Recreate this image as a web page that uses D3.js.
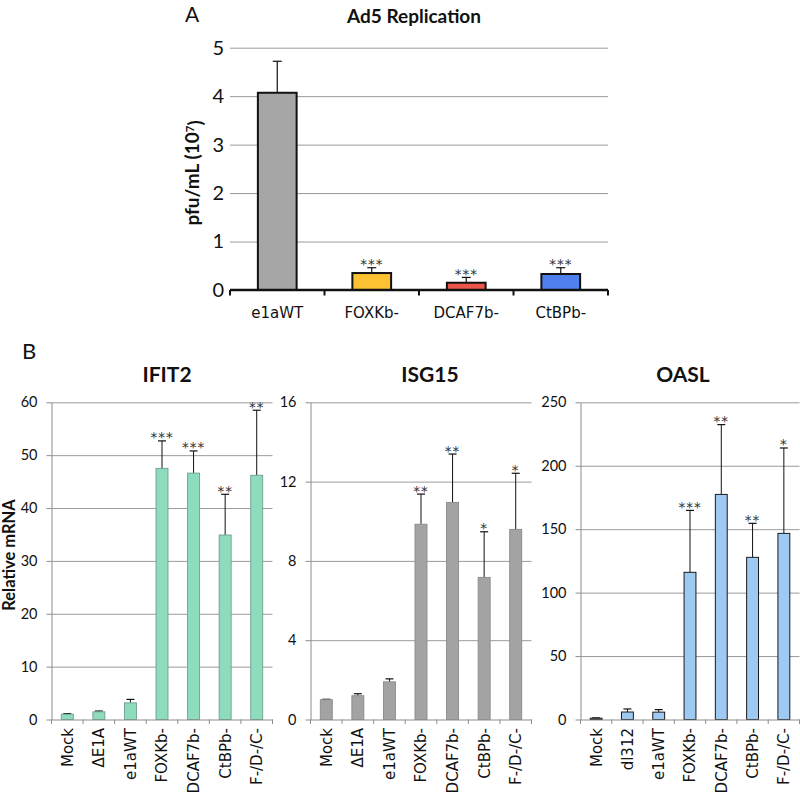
<!DOCTYPE html>
<html lang="en">
<head>
<meta charset="UTF-8" />
<script src="https://d3js.org/d3.v7.min.js"></script>
<style>
  body { margin: 0; background: #fff; }
  svg text { fill: #111; }
  .tick-label { font-family: Lato, sans-serif; }
  .cat-label { font-family: "DejaVu Sans", sans-serif; }
  .title { font-family: Lato, sans-serif; font-weight: bold; }
  .stars { font-family: "DejaVu Sans", sans-serif; fill: #333; }
</style>
</head>
<body>
<svg id="chart" width="800" height="794"></svg>
<script>
// ---- data: panel A (Ad5 replication, pfu/mL x10^7)
const repCategories = ['e1aWT', 'FOXKb-', 'DCAF7b-', 'CtBPb-'];
const repValues = [4.07, 0.35, 0.15, 0.33];
const repErrors = [0.65, 0.11, 0.11, 0.13];
const repStars = ['', '***', '***', '***'];
const repTicks = [0, 1, 2, 3, 4, 5];

// ---- data: panel B (relative mRNA)
const ifit2Categories = ['Mock', '\u0394E1A', 'e1aWT', 'FOXKb-', 'DCAF7b-', 'CtBPb-', 'F-/D-/C-'];
const ifit2Values = [1.0, 1.45, 3.15, 47.5, 46.6, 34.9, 46.2];
const ifit2Errors = [0.1, 0.15, 0.65, 5.2, 4.2, 7.7, 12.3];
const ifit2Stars = ['', '', '', '***', '***', '**', '**'];
const ifit2Ticks = [0, 10, 20, 30, 40, 50, 60];

const isg15Categories = ['Mock', '\u0394E1A', 'e1aWT', 'FOXKb-', 'DCAF7b-', 'CtBPb-', 'F-/D-/C-'];
const isg15Values = [1.0, 1.2, 1.9, 9.85, 10.95, 7.17, 9.59];
const isg15Errors = [0.02, 0.1, 0.15, 1.52, 2.44, 2.3, 2.83];
const isg15Stars = ['', '', '', '**', '**', '*', '*'];
const isg15Ticks = [0, 4, 8, 12, 16];

const oaslCategories = ['Mock', 'dl312', 'e1aWT', 'FOXKb-', 'DCAF7b-', 'CtBPb-', 'F-/D-/C-'];
const oaslValues = [1.0, 5.9, 5.8, 116, 177.4, 127.8, 146.7];
const oaslErrors = [0.3, 2.4, 2.0, 48.8, 55, 26.8, 67.3];
const oaslStars = ['', '', '', '***', '**', '**', '*'];
const oaslTicks = [0, 50, 100, 150, 200, 250];

const svg = d3.select('#chart');
const intFmt = d3.format('d');

// ================= panel A =================
const repX = d3.scaleBand().domain(repCategories).range([230, 608]);
const repY = d3.scaleLinear().domain([0, 5]).range([290, 47.7]);
const repColor = d3.scaleOrdinal()
  .domain(repCategories)
  .range(['#a6a6a6', '#fcc232', '#e9584a', '#4f80ee']);

svg.append('text').attr('x', 185).attr('y', 22)
  .style('font-family', 'Lato, sans-serif').style('font-size', '21px').text('A');

svg.append('text').attr('class', 'title').attr('x', 414).attr('y', 23)
  .attr('text-anchor', 'middle').style('font-size', '19px').text('Ad5 Replication');

const gA = svg.append('g');

// gridlines
const gridA = gA.append('g')
  .attr('transform', 'translate(230,0)')
  .call(d3.axisLeft(repY).tickValues(repTicks.slice(1)).tickSize(-378).tickFormat(''));
gridA.select('.domain').remove();
gridA.selectAll('.tick line').attr('stroke', '#9a9a9a').attr('stroke-width', 1);

// y labels
const yAxA = gA.append('g')
  .attr('transform', 'translate(230,0)')
  .call(d3.axisLeft(repY).tickValues(repTicks).tickFormat(intFmt).tickSize(0).tickPadding(6));
yAxA.select('.domain').remove();
yAxA.selectAll('text').attr('class', 'tick-label').style('font-size', '20px');

gA.append('text').attr('class', 'title')
  .attr('transform', 'translate(199,173) rotate(-90)')
  .attr('text-anchor', 'middle').style('font-size', '19px')
  .call(t => {
    t.append('tspan').text('pfu/mL (10');
    t.append('tspan').attr('dy', '-0.45em').style('font-size', '11.5px').text('7');
    t.append('tspan').attr('dy', '0.45em').text(')');
  });

// bars
const repBarW = repX.bandwidth() * 0.41;
repCategories.forEach((c, i) => {
  const cx = repX(c) + repX.bandwidth() / 2;
  const top = repY(repValues[i]);
  const errTop = repY(repValues[i] + repErrors[i]);
  gA.append('line').attr('x1', cx).attr('x2', cx).attr('y1', top).attr('y2', errTop)
    .attr('stroke', '#111').attr('stroke-width', 1.2);
  gA.append('line').attr('x1', cx - 4.5).attr('x2', cx + 4.5).attr('y1', errTop).attr('y2', errTop)
    .attr('stroke', '#111').attr('stroke-width', 1.2);
  gA.append('rect')
    .attr('x', cx - repBarW / 2).attr('y', top)
    .attr('width', repBarW).attr('height', repY(0) - top)
    .attr('fill', repColor(c)).attr('stroke', '#111').attr('stroke-width', 2);
  if (repStars[i]) {
    gA.append('text').attr('class', 'stars').attr('x', cx).attr('y', errTop + 1.5)
      .attr('text-anchor', 'middle').style('font-size', '13.5px').style('letter-spacing', '1px')
      .text(repStars[i]);
  }
});

// x axis
const xAxA = gA.append('g')
  .attr('transform', 'translate(0,290)')
  .call(d3.axisBottom(repX).tickSize(0).tickPadding(17));
xAxA.select('.domain').attr('stroke', '#111').attr('stroke-width', 2.5)
  .attr('d', 'M230,0H608');
xAxA.selectAll('text').attr('class', 'cat-label').style('font-size', '15px');
xAxA.selectAll('.edge').data(repCategories.map(c => repX(c)).concat([608]))
  .enter().append('line').attr('class', 'edge')
  .attr('x1', d => d).attr('x2', d => d).attr('y1', 0).attr('y2', 5.5)
  .attr('stroke', '#111').attr('stroke-width', 2);

// ================= panel B =================
svg.append('text').attr('x', 22).attr('y', 359)
  .style('font-family', 'Lato, sans-serif').style('font-size', '22px').text('B');

svg.append('text').attr('class', 'title')
  .attr('transform', 'translate(15,555) rotate(-90)')
  .attr('text-anchor', 'middle').style('font-size', '16.5px').text('Relative mRNA');

const panels = [
  { title: 'IFIT2', titleX: 167, x0: 51.5, w: 221, cats: ifit2Categories, vals: ifit2Values,
    errs: ifit2Errors, stars: ifit2Stars, ticks: ifit2Ticks,
    fill: '#8edcbe', stroke: '#6f9e8d', sw: 0.9 },
  { title: 'ISG15', titleX: 430, x0: 310.5, w: 221, cats: isg15Categories, vals: isg15Values,
    errs: isg15Errors, stars: isg15Stars, ticks: isg15Ticks,
    fill: '#a3a3a3', stroke: '#8a8a8a', sw: 0.9 },
  { title: 'OASL', titleX: 683, x0: 580.5, w: 219, cats: oaslCategories, vals: oaslValues,
    errs: oaslErrors, stars: oaslStars, ticks: oaslTicks,
    fill: '#9ec9f3', stroke: '#1a1a1a', sw: 1 }
];

panels.forEach(p => {
  const g = svg.append('g');
  const x = d3.scaleBand().domain(p.cats).range([p.x0, p.x0 + p.w]);
  const y = d3.scaleLinear().domain([0, d3.max(p.ticks)]).range([719.5, 402.3]);

  g.append('text').attr('class', 'title').attr('x', p.titleX).attr('y', 382)
    .attr('text-anchor', 'middle').style('font-size', '21px').text(p.title);

  const grid = g.append('g').attr('transform', `translate(${p.x0},0)`)
    .call(d3.axisLeft(y).tickValues(p.ticks.slice(1)).tickSize(-p.w).tickFormat(''));
  grid.select('.domain').remove();
  grid.selectAll('.tick line').attr('stroke', '#9a9a9a');

  const yAx = g.append('g').attr('transform', `translate(${p.x0},0)`)
    .call(d3.axisLeft(y).tickValues(p.ticks).tickFormat(intFmt)
      .tickSize(5).tickSizeOuter(0).tickPadding(9));
  yAx.select('.domain').attr('stroke', '#8c8c8c');
  yAx.selectAll('.tick line').attr('stroke', '#8c8c8c');
  yAx.selectAll('text').attr('class', 'tick-label').style('font-size', '14.5px');

  const bw = x.bandwidth() * 0.38;
  p.cats.forEach((c, i) => {
    const cx = x(c) + x.bandwidth() / 2;
    const top = y(p.vals[i]);
    const errTop = y(p.vals[i] + p.errs[i]);
    g.append('line').attr('x1', cx).attr('x2', cx).attr('y1', top).attr('y2', errTop)
      .attr('stroke', '#111').attr('stroke-width', 1);
    g.append('line').attr('x1', cx - 4).attr('x2', cx + 4).attr('y1', errTop).attr('y2', errTop)
      .attr('stroke', '#111').attr('stroke-width', 1.2);
    g.append('rect').attr('x', cx - bw / 2).attr('y', top)
      .attr('width', bw).attr('height', y(0) - top)
      .attr('fill', p.fill).attr('stroke', p.stroke).attr('stroke-width', p.sw);
    if (p.stars[i]) {
      g.append('text').attr('class', 'stars').attr('x', cx).attr('y', errTop + 1.5)
        .attr('text-anchor', 'middle').style('font-size', '13.5px').style('letter-spacing', '1px')
        .text(p.stars[i]);
    }
  });

  // x axis with tick marks at band edges and rotated labels
  const xAx = g.append('g').attr('transform', 'translate(0,719.5)')
    .call(d3.axisBottom(x).tickSize(0).tickFormat(''));
  xAx.select('.domain').attr('stroke', '#8c8c8c');
  xAx.selectAll('.edge').data(p.cats.map(c => x(c)).concat([p.x0 + p.w]))
    .enter().append('line').attr('class', 'edge')
    .attr('x1', d => d).attr('x2', d => d).attr('y1', 0).attr('y2', 4.5)
    .attr('stroke', '#8c8c8c');

  g.selectAll('.cat').data(p.cats).enter().append('text')
    .attr('class', 'cat-label')
    .attr('transform', d => `translate(${x(d) + x.bandwidth() / 2},728) rotate(-90)`)
    .attr('text-anchor', 'end').attr('dy', '0.36em')
    .style('font-size', '15px').text(d => d);
});
</script>
</body>
</html>
